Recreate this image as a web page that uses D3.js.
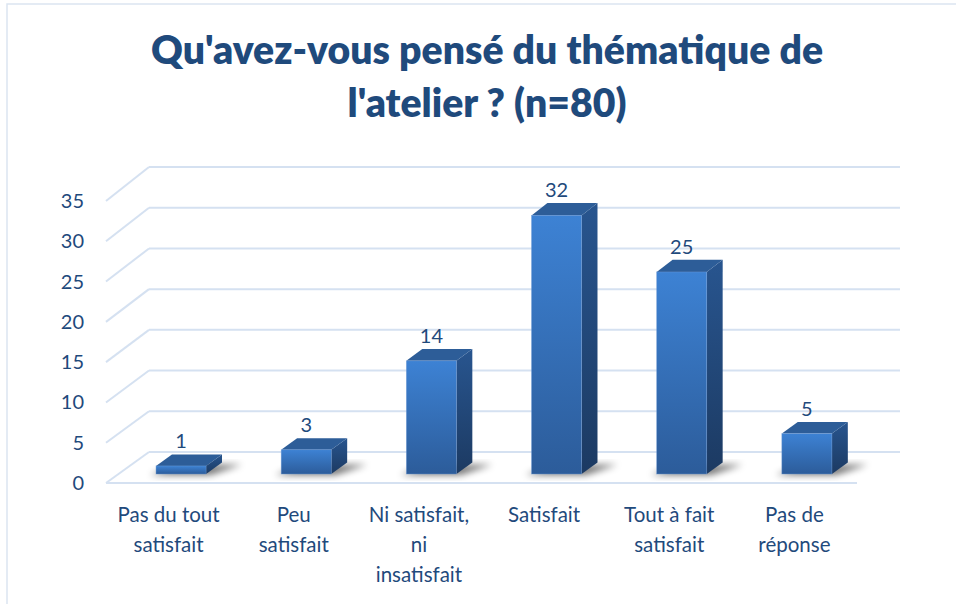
<!DOCTYPE html>
<html>
<head>
<meta charset="utf-8">
<script src="https://cdn.jsdelivr.net/npm/d3@7/dist/d3.min.js"></script>
<style>
  html, body { margin: 0; padding: 0; background: #ffffff; }
  svg { display: block; }
  text { font-family: Lato, "Open Sans", "DejaVu Sans", sans-serif; }
</style>
</head>
<body>
<svg id="chart" width="956" height="604"></svg>
<script>
// ---- data ----
const titleLines = ["Qu'avez-vous pensé du thématique de", "l'atelier ? (n=80)"];
const categories = ["Pas du tout satisfait", "Peu satisfait", "Ni satisfait, ni insatisfait", "Satisfait", "Tout à fait satisfait", "Pas de réponse"];
const categoryLines = [["Pas du tout", "satisfait"], ["Peu", "satisfait"], ["Ni satisfait,", "ni", "insatisfait"], ["Satisfait"], ["Tout à fait", "satisfait"], ["Pas de", "réponse"]];
const values = [1, 3, 14, 32, 25, 5];
const yTicks = [0, 5, 10, 15, 20, 25, 30, 35];

// ---- layout ----
const svg = d3.select("#chart");
const textColor = "#1f4a7c";
const gridColor = "#d5e1f1";
const depthDX = 43;
const barT1 = 0.29, barT2 = 0.66;

const defs = svg.append("defs");
const gFront = defs.append("linearGradient").attr("id", "gFront").attr("x1", 0).attr("y1", 0).attr("x2", 0).attr("y2", 1);
gFront.append("stop").attr("offset", "0%").attr("stop-color", "#3d82d4");
gFront.append("stop").attr("offset", "100%").attr("stop-color", "#2c5c9a");
const gSide = defs.append("linearGradient").attr("id", "gSide").attr("x1", 0).attr("y1", 0).attr("x2", 0).attr("y2", 1);
gSide.append("stop").attr("offset", "0%").attr("stop-color", "#28558f");
gSide.append("stop").attr("offset", "100%").attr("stop-color", "#1c3a62");
const blur = defs.append("filter").attr("id", "blur").attr("x", "-50%").attr("y", "-50%").attr("width", "200%").attr("height", "200%");
blur.append("feGaussianBlur").attr("stdDeviation", 3.5);

svg.append("rect").attr("x", 7).attr("y", 4).attr("width", 970).attr("height", 640)
  .attr("fill", "none").attr("stroke", "#dbe5f1").attr("stroke-width", 1.5);

const xFront = d3.scaleBand().domain(categories).range([106, 857]).paddingInner(0).paddingOuter(0);
const yFront = d3.scaleLinear().domain([0, 35]).range([483, 201]);
const yBack = d3.scaleLinear().domain([0, 35]).range([452, 167]);
const px = (xf, t) => xf + depthDX * t;
const py = (v, t) => yFront(v) + (yBack(v) - yFront(v)) * t;
const x0 = xFront.range()[0], x1 = xFront.range()[1];

// title
const title = svg.append("g");
const titleSize = 40;
titleLines.forEach((line, i) => {
  title.append("text")
    .attr("x", 487).attr("y", 64 + i * 53)
    .attr("text-anchor", "middle")
    .attr("font-size", titleSize).attr("font-weight", 800)
    .attr("fill", textColor)
    .text(line);
});
const nodes = title.selectAll("text").nodes();
const kFit = 672 / nodes[0].getComputedTextLength();
nodes.forEach(n => {
  const w = n.getComputedTextLength();
  d3.select(n).attr("textLength", w * kFit).attr("lengthAdjust", "spacingAndGlyphs");
});

// gridlines
const grid = svg.append("g").attr("stroke", gridColor).attr("stroke-width", 2).attr("fill", "none");
yTicks.forEach(v => {
  grid.append("line").attr("x1", px(x0, 1)).attr("y1", py(v, 1)).attr("x2", px(x1, 1)).attr("y2", py(v, 1));
  grid.append("line").attr("x1", px(x0, 0)).attr("y1", py(v, 0)).attr("x2", px(x0, 1)).attr("y2", py(v, 1));
});
grid.append("line").attr("x1", px(x0, 0)).attr("y1", py(0, 0)).attr("x2", px(x1, 0)).attr("y2", py(0, 0));

// y axis labels
svg.append("g").selectAll("text").data(yTicks).join("text")
  .attr("x", 84).attr("y", d => yFront(d)).attr("dy", "0.35em")
  .attr("text-anchor", "end").attr("font-size", 20).attr("fill", textColor)
  .text(d => d);

// bars
const bw = xFront.bandwidth() * 0.4;
const bars = svg.append("g");
categories.forEach((c, i) => {
  const v = values[i];
  const cx = xFront(c) + xFront.bandwidth() / 2;
  const xl = cx - bw / 2, xr = cx + bw / 2;
  const g = bars.append("g");
  const sh = [
    [px(xl, barT1) - 6, py(0, barT1) + 1],
    [px(xr, barT1) + 4, py(0, barT1) + 1],
    [px(xr, barT2) + 20, py(0, barT2) + 2],
    [px(xl, barT2) + 4, py(0, barT2) + 3]
  ];
  g.append("polygon").attr("points", sh.map(p => p.join(",")).join(" "))
    .attr("fill", "#000").attr("opacity", 0.55).attr("filter", "url(#blur)");
  const fx = px(xl, barT1), fr = px(xr, barT1);
  const ft = py(v, barT1), fb = py(0, barT1);
  const bxr = px(xr, barT2), bxl = px(xl, barT2);
  const bt = py(v, barT2), bb = py(0, barT2);
  g.append("polygon")
    .attr("points", [[fr, ft], [bxr, bt], [bxr, bb], [fr, fb]].map(p => p.join(",")).join(" "))
    .attr("fill", "url(#gSide)");
  g.append("polygon")
    .attr("points", [[fx, ft], [bxl, bt], [bxr, bt], [fr, ft]].map(p => p.join(",")).join(" "))
    .attr("fill", "#2d5d98");
  g.append("rect").attr("x", fx).attr("y", ft).attr("width", fr - fx).attr("height", fb - ft)
    .attr("fill", "url(#gFront)").attr("stroke", "#6f9bd6").attr("stroke-width", 0.6).attr("stroke-opacity", 0.7);
  g.append("text").attr("x", (fx + fr) / 2).attr("y", bt - 6)
    .attr("text-anchor", "middle").attr("font-size", 20).attr("fill", textColor)
    .text(v);
});

// category labels
const cat = svg.append("g");
categories.forEach((c, i) => {
  const cx = xFront(c) + xFront.bandwidth() / 2;
  const t = cat.append("text").attr("text-anchor", "middle").attr("font-size", 20.5).attr("fill", textColor);
  categoryLines[i].forEach((ln, j) => {
    t.append("tspan").attr("x", cx).attr("y", 522 + j * 30).text(ln);
  });
});
</script>
</body>
</html>
